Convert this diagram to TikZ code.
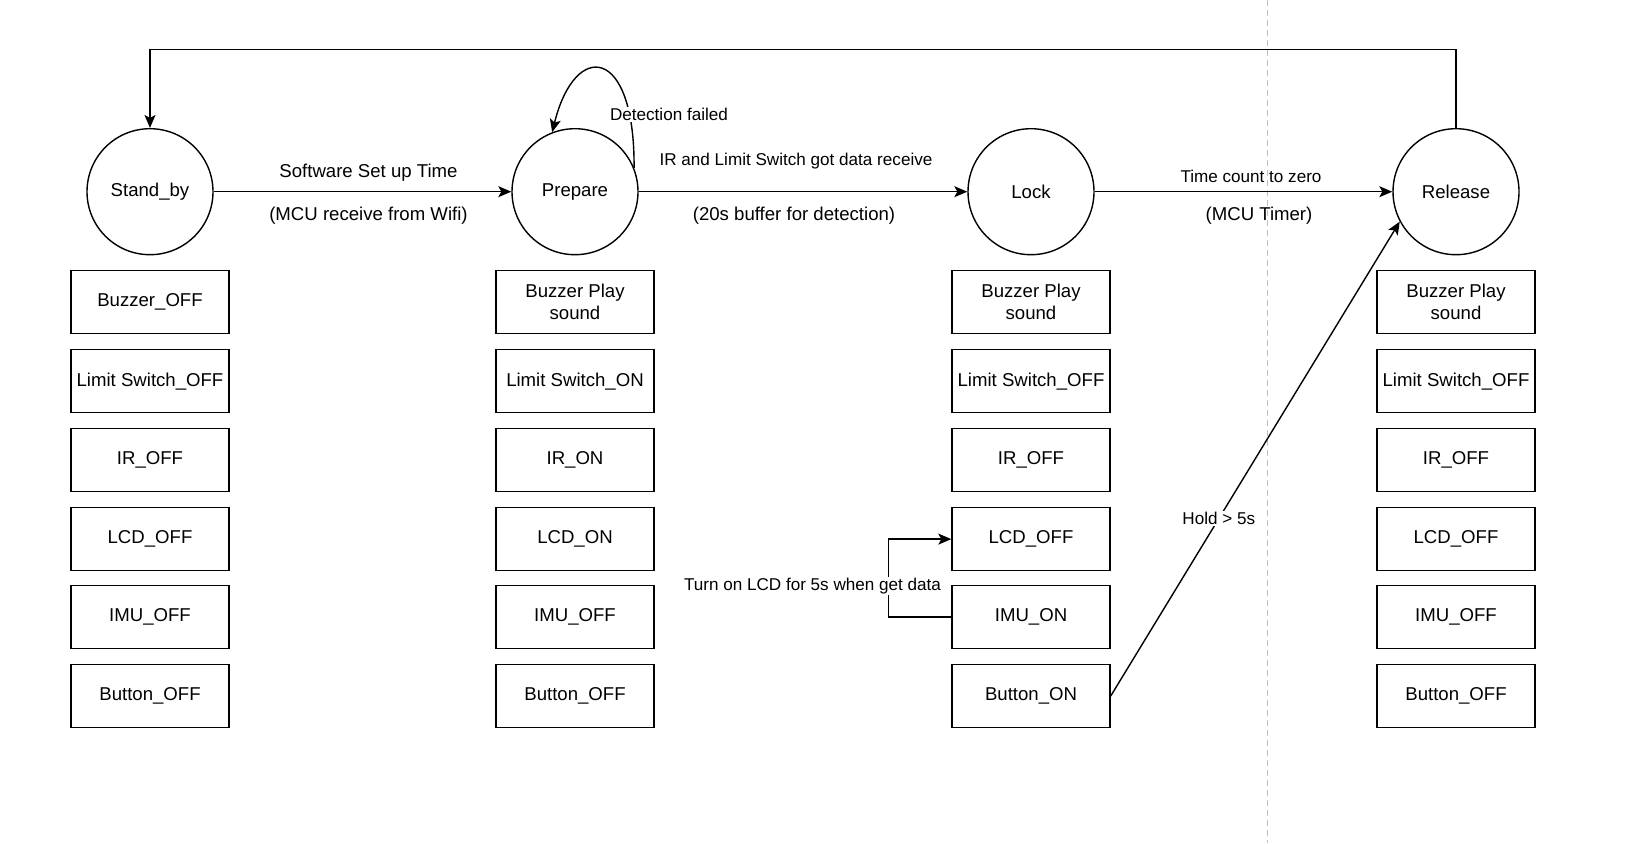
\documentclass[tikz,border=0pt]{standalone}
\usepackage{fontspec}
\setmainfont{Liberation Sans}
\usetikzlibrary{arrows.meta}
\begin{document}
\begin{tikzpicture}[x=1pt,y=-1pt,
  state/.style={circle, draw, line width=1.4pt, minimum size=126pt, inner sep=0pt, font=\fontsize{18.6}{22}\selectfont},
  sbox/.style={rectangle, draw, line width=1.4pt, minimum width=158pt, minimum height=63pt, inner sep=0pt, align=center, font=\fontsize{18.6}{22}\selectfont},
  lbl/.style={font=\fontsize{18.6}{22}\selectfont, inner sep=1pt},
  slbl/.style={font=\fontsize{17.1}{20}\selectfont, inner sep=1pt},
  conn/.style={line width=1.4pt, -{Stealth[length=13pt,width=11pt,inset=3pt]}},
  guide/.style={draw=black!25, line width=1pt, dash pattern=on 6pt off 4pt}
]
\useasboundingbox (0,0) rectangle (1651,843);
% page-break guide
\coordinate (gt) at (1267.7,0);
\coordinate (gb) at (1267.7,843);
\draw[guide] (gt) -- (gb);

% states
\node[state] (S) at (150,191.7) {Stand\_by};
\node[state] (P) at (575,191.7) {Prepare};
\node[state] (L) at (1031,191.7) {Lock};
\node[state] (R) at (1456,191.7) {Release};

% Stand_by column
\node[sbox] (S1) at (150,302.2) {Buzzer\_OFF};
\node[sbox] (S2) at (150,381.2) {Limit Switch\_OFF};
\node[sbox] (S3) at (150,460.1) {IR\_OFF};
\node[sbox] (S4) at (150,539.1) {LCD\_OFF};
\node[sbox] (S5) at (150,617.0) {IMU\_OFF};
\node[sbox] (S6) at (150,696.0) {Button\_OFF};

% Prepare column
\node[sbox] (P1) at (575,302.2) {Buzzer Play\\sound};
\node[sbox] (P2) at (575,381.2) {Limit Switch\_ON};
\node[sbox] (P3) at (575,460.1) {IR\_ON};
\node[sbox] (P4) at (575,539.1) {LCD\_ON};
\node[sbox] (P5) at (575,617.0) {IMU\_OFF};
\node[sbox] (P6) at (575,696.0) {Button\_OFF};

% Lock column
\node[sbox] (L1) at (1031,302.2) {Buzzer Play\\sound};
\node[sbox] (L2) at (1031,381.2) {Limit Switch\_OFF};
\node[sbox] (L3) at (1031,460.1) {IR\_OFF};
\node[sbox] (L4) at (1031,539.1) {LCD\_OFF};
\node[sbox] (L5) at (1031,617.0) {IMU\_ON};
\node[sbox] (L6) at (1031,696.0) {Button\_ON};

% Release column
\node[sbox] (R1) at (1456,302.2) {Buzzer Play\\sound};
\node[sbox] (R2) at (1456,381.2) {Limit Switch\_OFF};
\node[sbox] (R3) at (1456,460.1) {IR\_OFF};
\node[sbox] (R4) at (1456,539.1) {LCD\_OFF};
\node[sbox] (R5) at (1456,617.0) {IMU\_OFF};
\node[sbox] (R6) at (1456,696.0) {Button\_OFF};

% transitions
\draw[conn] (S) -- (P);
\node[lbl] (t1a) at (368.5,172.6) {Software Set up Time};
\node[lbl] (t1b) at (368.5,215.7) {(MCU receive from Wifi)};

\draw[conn] (P) -- (L);
\node[slbl] (t2a) at (796,161) {IR and Limit Switch got data receive};
\node[lbl] (t2b) at (794,215.7) {(20s buffer for detection)};

\draw[conn] (L) -- (R);
\node[slbl] (t3a) at (1251,176) {Time count to zero};
\node[lbl] (t3b) at (1259,215.7) {(MCU Timer)};

% self loop
\draw[conn] (P.22) .. controls (635,45) and (575,40) .. (P.111);
\node[slbl, fill=white] (df) at (669,114.5) {Detection failed};

% return loop
\coordinate (loop) at (800,49.5);
\draw[conn] (R.north) |- (loop) -| (S.north);

% IMU -> LCD
\draw[conn] (L5.west) -- ++(-62.8,0) |- (L4.west);
\node[slbl, fill=white] (tl) at (812.5,586.3) {Turn on LCD for 5s when get data};

% Button -> Release
\draw[conn] (L6.east) -- node[slbl, fill=white, pos=0.374] (hold) {Hold > 5s} (R.208);
\end{tikzpicture}
\end{document}
